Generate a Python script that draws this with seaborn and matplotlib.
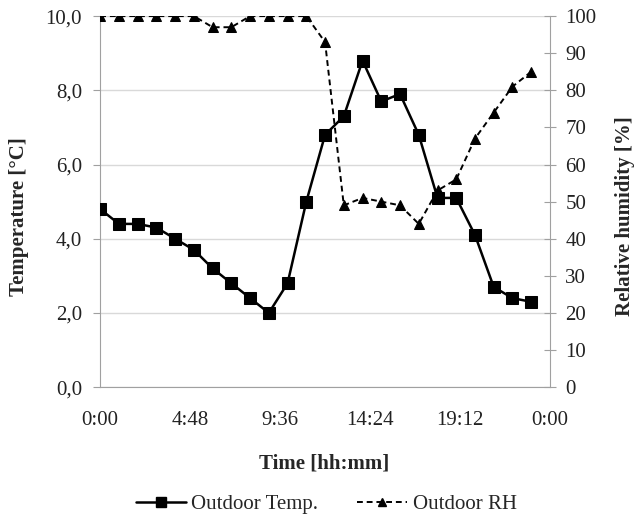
import numpy as np
import pandas as pd
import matplotlib
matplotlib.use('Agg')
import matplotlib.pyplot as plt
import seaborn as sns
from matplotlib.ticker import FuncFormatter, FixedLocator
from matplotlib.lines import Line2D

# hourly readings, 0:00 .. 23:00
hours = list(range(24))
temp = [4.8, 4.4, 4.4, 4.3, 4.0, 3.7, 3.2, 2.8, 2.4, 2.0, 2.8, 5.0,
        6.8, 7.3, 8.8, 7.7, 7.9, 6.8, 5.1, 5.1, 4.1, 2.7, 2.4, 2.3]
rh = [100, 100, 100, 100, 100, 100, 97, 97, 100, 100, 100, 100,
      93, 49, 51, 50, 49, 44, 53, 56, 67, 74, 81, 85]
xticks = [0, 4.8, 9.6, 14.4, 19.2, 24]

df = pd.DataFrame({'hour': hours, 'temp': temp, 'rh': rh})

sns.set_style('white')
plt.rcParams['font.family'] = ['Liberation Serif', 'DejaVu Serif']

fig = plt.figure(figsize=(6.38, 5.19), dpi=100)
ax = fig.add_axes([0.157, 0.254, 0.705, 0.715])
ax2 = ax.twinx()

sns.lineplot(data=df, x='hour', y='temp', ax=ax, color='black', lw=1.8,
             marker='s', markersize=8, markeredgecolor='black', zorder=3)
sns.lineplot(data=df, x='hour', y='rh', ax=ax2, color='black', lw=1.4,
             linestyle=(0, (3, 2)), marker='^', markersize=7,
             markeredgecolor='black', zorder=3)

ax.set_xlim(0, 24)
ax.set_ylim(0, 10)
ax2.set_ylim(0, 100)
ax.set_yticks(np.arange(0, 10.1, 2))
ax.yaxis.set_major_formatter(FuncFormatter(lambda v, p: f'{v:.1f}'.replace('.', ',')))
ax2.set_yticks(np.arange(0, 101, 10))
ax.xaxis.set_major_locator(FixedLocator(xticks))


def hhmm(v, p):
    m = int(round(v * 60)) % (24 * 60)
    return f'{m // 60}:{m % 60:02d}'


ax.xaxis.set_major_formatter(FuncFormatter(hhmm))

ax.grid(axis='y', color='#d9d9d9', lw=1)
ax.set_axisbelow(True)
for a in (ax, ax2):
    a.spines['top'].set_visible(False)
    for s in ['left', 'right', 'bottom']:
        a.spines[s].set_color('#a0a0a0')
ax.spines['right'].set_visible(False)
ax2.spines['left'].set_visible(False)
ax2.spines['bottom'].set_visible(False)

ax.tick_params(axis='both', labelsize=15, color='#a0a0a0', length=5,
               labelcolor='#222222', direction='out')
ax.tick_params(axis='y', pad=8)
ax.tick_params(axis='x', pad=12)
ax2.tick_params(axis='y', labelsize=15, color='#a0a0a0', length=8,
                labelcolor='#222222', direction='inout', pad=7)

ax.set_xlabel('Time [hh:mm]', fontsize=15, fontweight='bold')
ax.set_ylabel('Temperature [°C]', fontsize=15, fontweight='bold')
ax2.set_ylabel('Relative humidity [%]', fontsize=15, fontweight='bold')
ax.xaxis.set_label_coords(0.498, -0.178)
ax.yaxis.set_label_coords(-0.158, 0.46)
ax2.yaxis.set_label_coords(1.144, 0.46)

handles = [
    Line2D([], [], color='black', lw=1.8, marker='s', markersize=7),
    Line2D([], [], color='black', lw=1.4, linestyle=(0, (3, 2)), marker='^', markersize=6),
]
fig.legend(handles, ['Outdoor Temp.', 'Outdoor RH'], loc='center',
           bbox_to_anchor=(0.511, 0.028), ncol=2, frameon=False, fontsize=15,
           handlelength=2.4, columnspacing=1.9, handletextpad=0.25,
           borderaxespad=0, borderpad=0)

fig.savefig('out.png', dpi=100)
